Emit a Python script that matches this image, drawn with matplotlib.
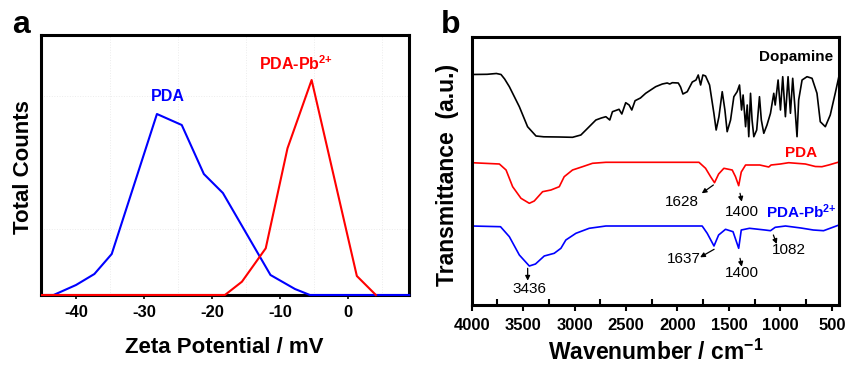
import matplotlib
matplotlib.use("Agg")
import matplotlib.pyplot as plt
import numpy as np

plt.rcParams['font.family'] = ['Liberation Sans', 'DejaVu Sans']
plt.rcParams['mathtext.fontset'] = 'custom'
plt.rcParams['mathtext.rm'] = 'Liberation Sans'
plt.rcParams['mathtext.bf'] = 'Liberation Sans:bold'

# ---------------- Panel a: zeta potential distribution ----------------
pda_zeta = [-45, -43.3, -40, -37.3, -34.75, -28.1, -24.45, -21.2, -18.4, -11.4, -7.8, -5.6, 9]
pda_counts = [0, 0, 10, 21, 41, 181, 170, 121, 102, 20, 6, 0, 0]
pb_zeta = [-45, -18.1, -15.6, -12.1, -8.9, -5.35, 1.3, 4.1]
pb_counts = [0, 0, 13.3, 46.7, 146.7, 215, 19, 0]
zeta_ticks = [-40, -30, -20, -10, 0]

# ---------------- Panel b: FTIR spectra ----------------
dop_wn = [4000, 3850, 3760, 3715, 3680, 3634, 3537, 3457, 3375, 3300, 3150, 3020, 2939, 2890,
          2793, 2740, 2696, 2658, 2632, 2568, 2541, 2503, 2470, 2444, 2412, 2360, 2309, 2212,
          2147, 2100, 2075, 2050, 1992, 1970, 1947, 1905, 1856, 1820, 1798, 1775, 1753, 1727,
          1688, 1646, 1624, 1597, 1565, 1539, 1517, 1484, 1452, 1420, 1397, 1377, 1362, 1338,
          1322, 1307, 1290, 1275, 1258, 1230, 1203, 1185, 1161, 1130, 1096, 1064, 1050, 1022,
          999, 977, 951, 925, 902, 880, 860, 838, 822, 789, 741, 692, 644, 612, 563, 515, 466, 430]
dop_t = [230.5, 230.7, 231.5, 230.5, 226, 218.3, 198.3, 178.3, 169, 168.2, 168, 167.7, 170, 175,
         185, 187, 188.3, 185, 193.3, 195.7, 191, 202.3, 200, 195, 204.3, 207, 211.7, 218.3,
         221, 222, 221, 222.3, 222, 218, 211, 213.3, 223, 225, 230, 220, 230, 229,
         220, 191.7, 175, 188.3, 213.3, 195, 173.3, 185, 208.3, 213.3, 220, 195, 210, 178.3,
         200, 168.3, 211.7, 185, 168.3, 175, 208.3, 185, 171.7, 180, 191.7, 211.7, 200, 225,
         195, 228.3, 188.3, 228.3, 191.7, 226.7, 200, 168.3, 205, 225, 228.3, 226.7, 211.7, 183.3,
         178.3, 190, 212, 229]

pda_wn = [4000, 3731, 3666, 3602, 3521, 3440, 3392, 3311, 3230, 3149, 3101, 3020, 2923, 2826,
          2696, 2300, 1791, 1727, 1678, 1640, 1600, 1549, 1468, 1436, 1405, 1380, 1338, 1200,
          1113, 1090, 1000, 919, 757, 660, 596, 530, 430]
pda_t = [142.3, 141, 135, 118.3, 106.7, 101.7, 104, 113.3, 115, 118.3, 128.3, 135, 138.3, 141.7,
         142.7, 142.7, 142.7, 136.7, 128.3, 122.3, 131, 136.7, 135, 128.3, 119.3, 133, 140, 140,
         138, 140, 141, 142.3, 141, 138.5, 138.3, 140, 143]

pbir_wn = [4000, 3720, 3634, 3537, 3440, 3380, 3295, 3198, 3133, 3085, 2987, 2858, 2696, 2300,
           1760, 1711, 1645, 1600, 1533, 1460, 1405, 1380, 1300, 1150, 1096, 1050, 950, 800,
           680, 580, 430]
pbir_t = [79, 78.3, 68.3, 50, 39, 41, 49, 51.7, 56.7, 65, 71.7, 76.7, 79, 79,
          79, 71.7, 59, 70, 75.7, 73.3, 56.7, 75, 76.7, 75, 74.3, 77.7, 79, 77,
          75, 74.3, 80]
wn_ticks = [4000, 3500, 3000, 2500, 2000, 1500, 1000, 500]

W, H = 847, 366
fig = plt.figure(figsize=(W / 100, H / 100), dpi=100)

def fx(px):
    return px / W

def fy(py):
    return 1 - py / H

PB_LABEL = r'PDA-$\mathbf{Pb^{2{+}}}$'

# ---- Panel a ----
axa = fig.add_axes([fx(41), fy(295), fx(409) - fx(41), fy(35) - fy(295)])
axa.plot(pda_zeta, pda_counts, color='#0000ff', lw=1.5, zorder=3, clip_on=False)
axa.plot(pb_zeta, pb_counts, color='#ff0000', lw=1.5, zorder=3, clip_on=False)
axa.set_xlim(-45.15, 8.97)
axa.set_ylim(0, 260)
axa.set_xticks(zeta_ticks)
axa.set_xticklabels([str(t) for t in zeta_ticks], fontsize=12, fontweight='bold')
axa.set_xticks([-35, -25, -15, -5, 5], minor=True)
axa.set_yticks([66, 199])
axa.set_yticklabels([])
axa.tick_params(axis='y', length=0)
axa.tick_params(axis='x', which='major', direction='out', length=3, width=1.2, pad=4.5)
axa.tick_params(axis='x', which='minor', length=0)
axa.grid(True, which='minor', axis='x', color='#ececec', lw=0.7, ls=':')
axa.grid(True, which='major', axis='y', color='#ececec', lw=0.7, ls=':')
for s in axa.spines.values():
    s.set_linewidth(2.2)
axa.text(-26.5, 198.3, 'PDA', color='#0000ff', fontsize=11.5, fontweight='bold',
         ha='center', va='center')
axa.text(-7.6, 231.7, PB_LABEL, color='#ff0000', fontsize=11.5,
         fontweight='bold', ha='center', va='center')
fig.text(fx(224), fy(353), 'Zeta Potential / mV', fontsize=16, fontweight='bold',
         ha='center', va='baseline')
fig.text(fx(29.3), fy(166.7), 'Total Counts', fontsize=16, fontweight='bold',
         ha='center', va='baseline', rotation=90, rotation_mode='anchor')
fig.text(fx(12), fy(33), 'a', fontsize=23, fontweight='bold', ha='left', va='baseline')

# ---- Panel b ----
axb = fig.add_axes([fx(471.7), fy(305), fx(839) - fx(471.7), fy(37) - fy(305)])
axb.plot(dop_wn, dop_t, color='black', lw=1.2)
axb.plot(pda_wn, pda_t, color='#ff0000', lw=1.2)
axb.plot(pbir_wn, pbir_t, color='#0000ff', lw=1.2)
axb.set_xlim(4000, 430)
axb.set_ylim(0, 268)
axb.set_xticks(wn_ticks)
axb.set_xticklabels([str(t) for t in wn_ticks], fontsize=12, fontweight='bold')
axb.set_xticks([3750, 3250, 2750, 2250, 1750, 1250, 750], minor=True)
axb.tick_params(axis='x', which='major', direction='out', length=4, width=1.5, pad=5)
axb.tick_params(axis='x', which='minor', direction='in', length=4, width=1.5)
axb.set_yticks([])
for s in axb.spines.values():
    s.set_linewidth(2.2)

axb.text(849, 248.3, 'Dopamine', color='black', fontsize=11, fontweight='bold',
         ha='center', va='center')
axb.text(801, 151.7, 'PDA', color='#ff0000', fontsize=11, fontweight='bold',
         ha='center', va='center')
axb.text(792, 93.3, PB_LABEL, color='#0000ff', fontsize=11,
         fontweight='bold', ha='center', va='center')

ap = dict(arrowstyle='-|>', color='black', lw=0.9, mutation_scale=7, shrinkA=0, shrinkB=0)
annots = [
    ('1628', (1651, 120), (1764, 111.7), (1958, 103.3)),
    ('1400', (1392, 111.7), (1375, 103.3), (1375, 93.3)),
    ('1637', (1644, 55.7), (1780, 47.7), (1936, 45.7)),
    ('1400', (1392, 46.7), (1375, 38.3), (1375, 31.7)),
    ('1082', (1068, 70), (1035, 61), (922, 55)),
    ('3436', (3456, 36.7), (3456, 24.3), (3440, 15.7)),
]
for lab, tail, head, tpos in annots:
    axb.annotate('', xy=head, xytext=tail, arrowprops=ap)
    axb.text(tpos[0], tpos[1], lab, fontsize=11, ha='center', va='center', color='black')

fig.text(fx(655.8), fy(360), r'Wavenumber / $\mathbf{cm^{-1}}$', fontsize=16.5,
         fontweight='bold', ha='center', va='baseline')
fig.text(fx(454), fy(175), 'Transmittance  (a.u.)', fontsize=16.5, fontweight='bold',
         ha='center', va='baseline', rotation=90, rotation_mode='anchor')
fig.text(fx(441), fy(33), 'b', fontsize=23, fontweight='bold', ha='left', va='baseline')

fig.savefig('out.png', dpi=100)
